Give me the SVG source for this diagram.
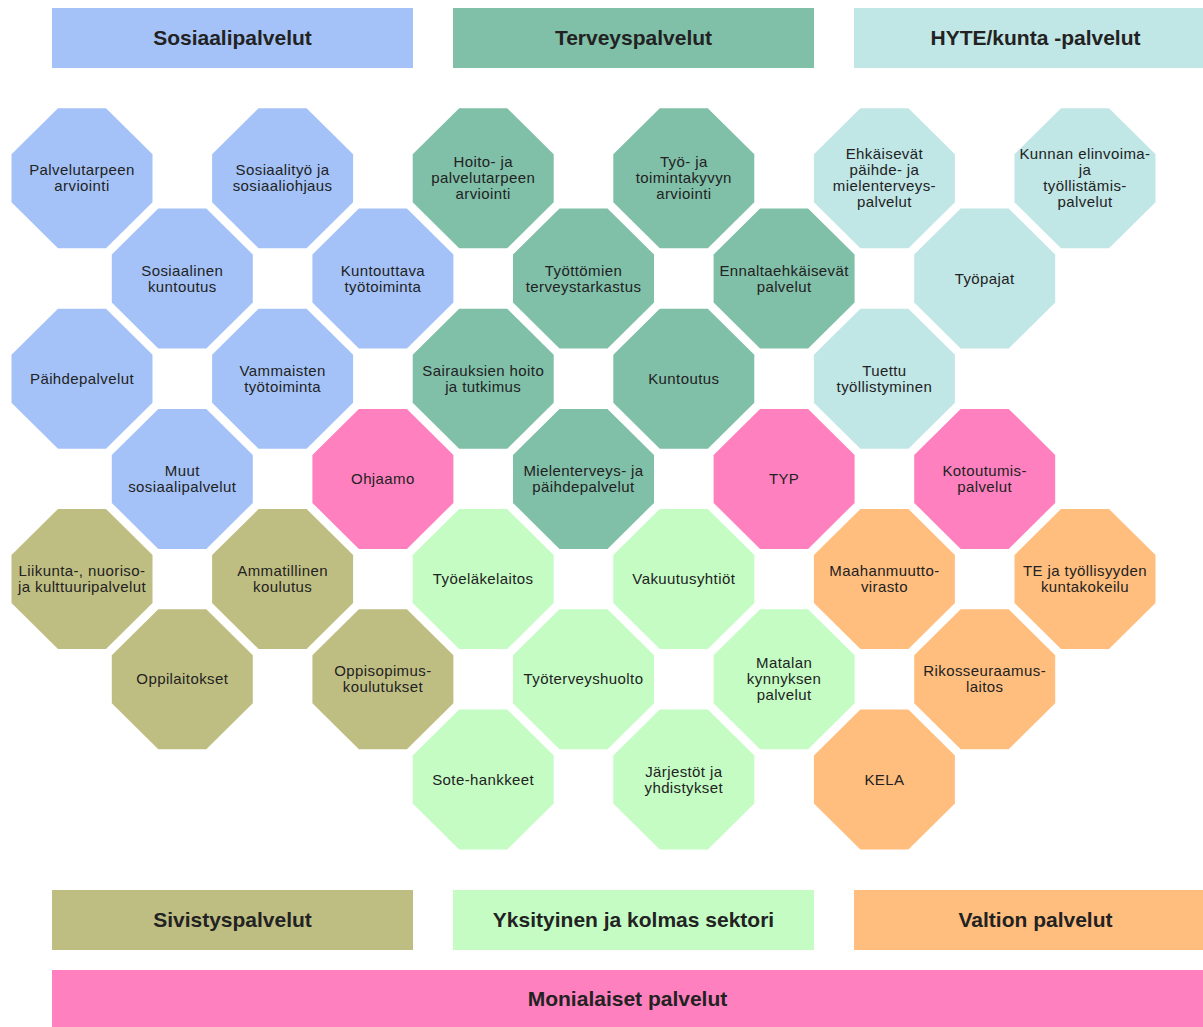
<svg xmlns="http://www.w3.org/2000/svg" xmlns:xlink="http://www.w3.org/1999/xlink" width="1203" height="1027" viewBox="0 0 1203 1027">
<style>
.t{font-family:"Liberation Sans",Arial,sans-serif;font-size:15px;letter-spacing:0.4px;fill:#222;text-anchor:middle}
.h{font-family:"Liberation Sans",Arial,sans-serif;font-size:21px;font-weight:bold;fill:#222;text-anchor:middle}
.blue{fill:#A4C2F8}
.green{fill:#80BFA8}
.cyan{fill:#C0E6E6}
.olive{fill:#BFBE82}
.lg{fill:#C4FCC4}
.orange{fill:#FFBE7E}
.pink{fill:#FF80BF}
</style>
<defs>
<path id="oct" d="M-24,-70 L24,-70 L70.5,-24 L70.5,24 L24,70 L-24,70 L-70.5,24 L-70.5,-24 Z"/>
</defs>
<rect width="1203" height="1027" fill="#fff"/>
<g id="headers">
<g id="h-sosiaali"><rect x="52" y="8" width="361" height="60" class="blue"/><text class="h" x="232.5" y="45">Sosiaalipalvelut</text></g>
<g id="h-terveys"><rect x="453" y="8" width="361" height="60" class="green"/><text class="h" x="633.5" y="45">Terveyspalvelut</text></g>
<g id="h-hyte"><rect x="854" y="8" width="361" height="60" class="cyan"/><text class="h" x="1035.5" y="45">HYTE/kunta -palvelut</text></g>
<g id="h-sivistys"><rect x="52" y="890" width="361" height="60" class="olive"/><text class="h" x="232.5" y="927">Sivistyspalvelut</text></g>
<g id="h-yksityinen"><rect x="453" y="890" width="361" height="60" class="lg"/><text class="h" x="633.5" y="927">Yksityinen ja kolmas sektori</text></g>
<g id="h-valtio"><rect x="854" y="890" width="361" height="60" class="orange"/><text class="h" x="1035.5" y="927">Valtion palvelut</text></g>
<g id="h-monialaiset"><rect x="52" y="970" width="1151" height="60" class="pink"/><text class="h" x="627.5" y="1006">Monialaiset palvelut</text></g>
</g>
<g id="connectors"/>
<g id="nodes">
<g id="n-palvelutarpeen"><use href="#oct" x="82" y="178.3" class="blue"/><text class="t" x="82" y="175.3"><tspan x="82">Palvelutarpeen</tspan><tspan x="82" dy="16">arviointi</tspan></text></g>
<g id="n-sosiaalityo"><use href="#oct" x="282.6" y="178.3" class="blue"/><text class="t" x="282.6" y="175.3"><tspan x="282.6">Sosiaalityö ja</tspan><tspan x="282.6" dy="16">sosiaaliohjaus</tspan></text></g>
<g id="n-hoito"><use href="#oct" x="483.2" y="178.3" class="green"/><text class="t" x="483.2" y="167.3"><tspan x="483.2">Hoito- ja</tspan><tspan x="483.2" dy="16">palvelutarpeen</tspan><tspan x="483.2" dy="16">arviointi</tspan></text></g>
<g id="n-tyo"><use href="#oct" x="683.8" y="178.3" class="green"/><text class="t" x="683.8" y="167.3"><tspan x="683.8">Työ- ja</tspan><tspan x="683.8" dy="16">toimintakyvyn</tspan><tspan x="683.8" dy="16">arviointi</tspan></text></g>
<g id="n-ehkaisevat"><use href="#oct" x="884.4" y="178.3" class="cyan"/><text class="t" x="884.4" y="159.3"><tspan x="884.4">Ehkäisevät</tspan><tspan x="884.4" dy="16">päihde- ja</tspan><tspan x="884.4" dy="16">mielenterveys-</tspan><tspan x="884.4" dy="16">palvelut</tspan></text></g>
<g id="n-kunnan"><use href="#oct" x="1085" y="178.3" class="cyan"/><text class="t" x="1085" y="159.3"><tspan x="1085">Kunnan elinvoima-</tspan><tspan x="1085" dy="16">ja</tspan><tspan x="1085" dy="16">työllistämis-</tspan><tspan x="1085" dy="16">palvelut</tspan></text></g>

<g id="n-sosiaalinen"><use href="#oct" x="182.3" y="278.5" class="blue"/><text class="t" x="182.3" y="275.5"><tspan x="182.3">Sosiaalinen</tspan><tspan x="182.3" dy="16">kuntoutus</tspan></text></g>
<g id="n-kuntouttava"><use href="#oct" x="382.9" y="278.5" class="blue"/><text class="t" x="382.9" y="275.5"><tspan x="382.9">Kuntouttava</tspan><tspan x="382.9" dy="16">työtoiminta</tspan></text></g>
<g id="n-tyottomien"><use href="#oct" x="583.5" y="278.5" class="green"/><text class="t" x="583.5" y="275.5"><tspan x="583.5">Työttömien</tspan><tspan x="583.5" dy="16">terveystarkastus</tspan></text></g>
<g id="n-ennalta"><use href="#oct" x="784.1" y="278.5" class="green"/><text class="t" x="784.1" y="275.5"><tspan x="784.1">Ennaltaehkäisevät</tspan><tspan x="784.1" dy="16">palvelut</tspan></text></g>
<g id="n-tyopajat"><use href="#oct" x="984.7" y="278.5" class="cyan"/><text class="t" x="984.7" y="283.5">Työpajat</text></g>

<g id="n-paihde"><use href="#oct" x="82" y="378.7" class="blue"/><text class="t" x="82" y="383.7">Päihdepalvelut</text></g>
<g id="n-vammaisten"><use href="#oct" x="282.6" y="378.7" class="blue"/><text class="t" x="282.6" y="375.7"><tspan x="282.6">Vammaisten</tspan><tspan x="282.6" dy="16">työtoiminta</tspan></text></g>
<g id="n-sairauksien"><use href="#oct" x="483.2" y="378.7" class="green"/><text class="t" x="483.2" y="375.7"><tspan x="483.2">Sairauksien hoito</tspan><tspan x="483.2" dy="16">ja tutkimus</tspan></text></g>
<g id="n-kuntoutus"><use href="#oct" x="683.8" y="378.7" class="green"/><text class="t" x="683.8" y="383.7">Kuntoutus</text></g>
<g id="n-tuettu"><use href="#oct" x="884.4" y="378.7" class="cyan"/><text class="t" x="884.4" y="375.7"><tspan x="884.4">Tuettu</tspan><tspan x="884.4" dy="16">työllistyminen</tspan></text></g>

<g id="n-muut"><use href="#oct" x="182.3" y="478.9" class="blue"/><text class="t" x="182.3" y="475.9"><tspan x="182.3">Muut</tspan><tspan x="182.3" dy="16">sosiaalipalvelut</tspan></text></g>
<g id="n-ohjaamo"><use href="#oct" x="382.9" y="478.9" class="pink"/><text class="t" x="382.9" y="483.9">Ohjaamo</text></g>
<g id="n-mielenterveys"><use href="#oct" x="583.5" y="478.9" class="green"/><text class="t" x="583.5" y="475.9"><tspan x="583.5">Mielenterveys- ja</tspan><tspan x="583.5" dy="16">päihdepalvelut</tspan></text></g>
<g id="n-typ"><use href="#oct" x="784.1" y="478.9" class="pink"/><text class="t" x="784.1" y="483.9">TYP</text></g>
<g id="n-kotoutumis"><use href="#oct" x="984.7" y="478.9" class="pink"/><text class="t" x="984.7" y="475.9"><tspan x="984.7">Kotoutumis-</tspan><tspan x="984.7" dy="16">palvelut</tspan></text></g>

<g id="n-liikunta"><use href="#oct" x="82" y="579.1" class="olive"/><text class="t" x="82" y="576.1"><tspan x="82">Liikunta-, nuoriso-</tspan><tspan x="82" dy="16">ja kulttuuripalvelut</tspan></text></g>
<g id="n-ammatillinen"><use href="#oct" x="282.6" y="579.1" class="olive"/><text class="t" x="282.6" y="576.1"><tspan x="282.6">Ammatillinen</tspan><tspan x="282.6" dy="16">koulutus</tspan></text></g>
<g id="n-tyoelake"><use href="#oct" x="483.2" y="579.1" class="lg"/><text class="t" x="483.2" y="584.1">Työeläkelaitos</text></g>
<g id="n-vakuutus"><use href="#oct" x="683.8" y="579.1" class="lg"/><text class="t" x="683.8" y="584.1">Vakuutusyhtiöt</text></g>
<g id="n-maahanmuutto"><use href="#oct" x="884.4" y="579.1" class="orange"/><text class="t" x="884.4" y="576.1"><tspan x="884.4">Maahanmuutto-</tspan><tspan x="884.4" dy="16">virasto</tspan></text></g>
<g id="n-te"><use href="#oct" x="1085" y="579.1" class="orange"/><text class="t" x="1085" y="576.1"><tspan x="1085">TE ja työllisyyden</tspan><tspan x="1085" dy="16">kuntakokeilu</tspan></text></g>

<g id="n-oppilaitokset"><use href="#oct" x="182.3" y="679.3" class="olive"/><text class="t" x="182.3" y="684.3">Oppilaitokset</text></g>
<g id="n-oppisopimus"><use href="#oct" x="382.9" y="679.3" class="olive"/><text class="t" x="382.9" y="676.3"><tspan x="382.9">Oppisopimus-</tspan><tspan x="382.9" dy="16">koulutukset</tspan></text></g>
<g id="n-tyoterveys"><use href="#oct" x="583.5" y="679.3" class="lg"/><text class="t" x="583.5" y="684.3">Työterveyshuolto</text></g>
<g id="n-matalan"><use href="#oct" x="784.1" y="679.3" class="lg"/><text class="t" x="784.1" y="668.3"><tspan x="784.1">Matalan</tspan><tspan x="784.1" dy="16">kynnyksen</tspan><tspan x="784.1" dy="16">palvelut</tspan></text></g>
<g id="n-rikos"><use href="#oct" x="984.7" y="679.3" class="orange"/><text class="t" x="984.7" y="676.3"><tspan x="984.7">Rikosseuraamus-</tspan><tspan x="984.7" dy="16">laitos</tspan></text></g>

<g id="n-sote"><use href="#oct" x="483.2" y="779.5" class="lg"/><text class="t" x="483.2" y="784.5">Sote-hankkeet</text></g>
<g id="n-jarjestot"><use href="#oct" x="683.8" y="779.5" class="lg"/><text class="t" x="683.8" y="776.5"><tspan x="683.8">Järjestöt ja</tspan><tspan x="683.8" dy="16">yhdistykset</tspan></text></g>
<g id="n-kela"><use href="#oct" x="884.4" y="779.5" class="orange"/><text class="t" x="884.4" y="784.5">KELA</text></g>
</g>
</svg>
